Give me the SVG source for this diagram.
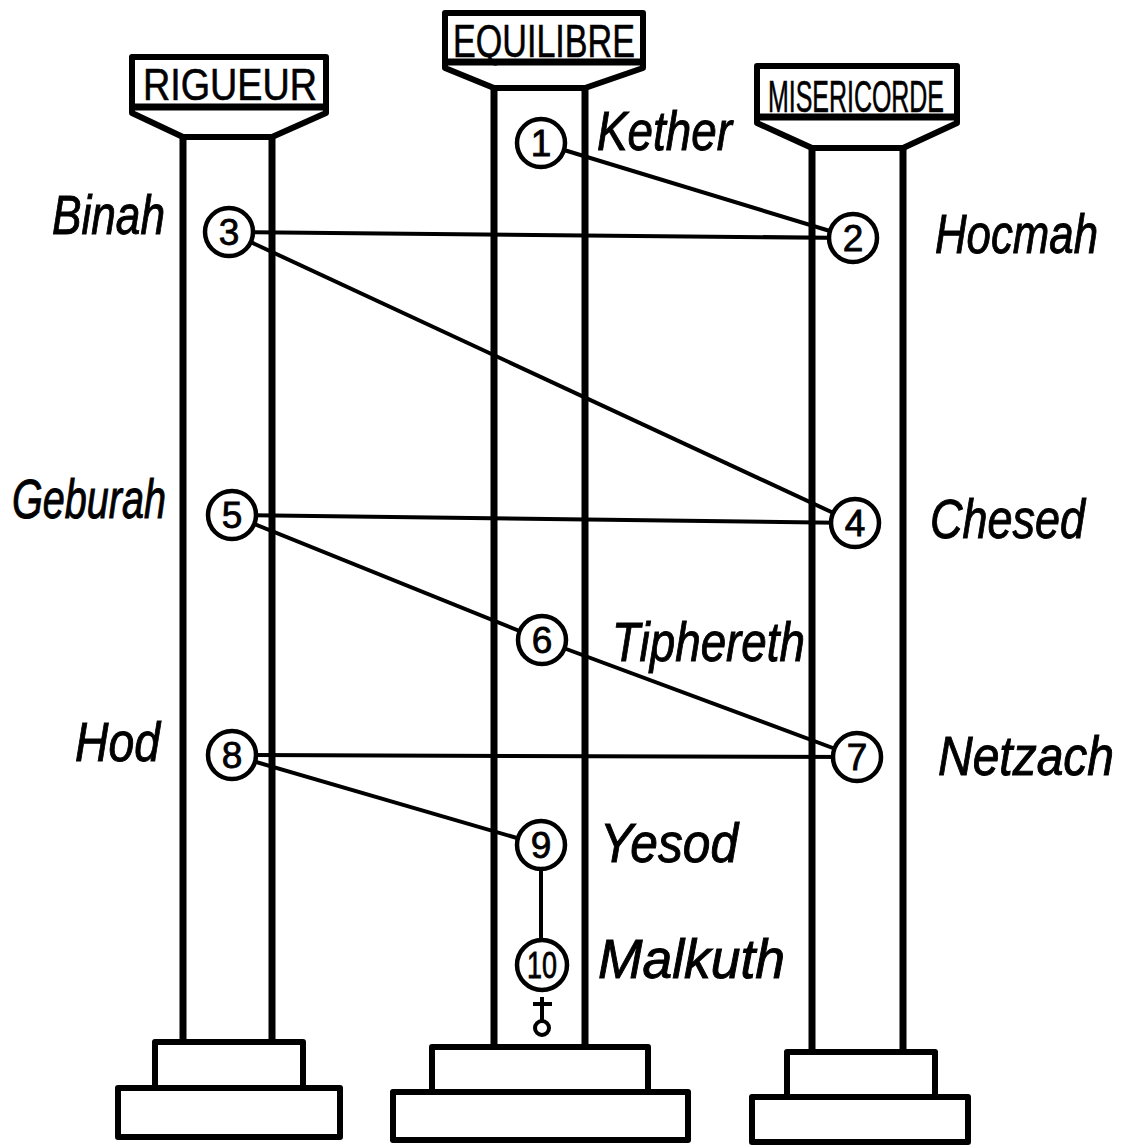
<svg xmlns="http://www.w3.org/2000/svg" width="1131" height="1146" viewBox="0 0 1131 1146">
<style>
.ol{fill:#fff;stroke:#000;stroke-width:6;stroke-linejoin:round}
.pl{stroke:#000;stroke-width:7;fill:none}
.cn{stroke:#000;stroke-width:4;fill:none}
.nd{fill:#fff;stroke:#000;stroke-width:4.5}
.num{font-family:"Liberation Sans",Arial,sans-serif;font-size:37px;text-anchor:middle;fill:#000;stroke:#000;stroke-width:0.8}
.lab{font-family:"Liberation Sans",Arial,sans-serif;font-style:italic;font-size:40px;fill:#000;stroke:#000;stroke-width:0.7}
.cap{font-family:"Liberation Sans",Arial,sans-serif;font-size:45px;fill:#000;stroke:#000;stroke-width:0.6}
</style>
<rect width="1131" height="1146" fill="#fff"/>
<g id="pillar-rigueur">
<line class="pl" x1="183" y1="137" x2="183" y2="1042"/>
<line class="pl" x1="272" y1="137" x2="272" y2="1042"/>
<path class="ol" d="M132,57 H326 V113 L272,137 H183 L132,113 Z"/>
<line class="pl" x1="132" y1="107" x2="326" y2="107" stroke-width="5"/>
<text class="cap" x="143" y="100" textLength="174" lengthAdjust="spacingAndGlyphs">RIGUEUR</text>
<rect class="ol" x="155" y="1042" width="148" height="46"/>
<rect class="ol" x="118" y="1088" width="222" height="49"/>
</g>
<g id="pillar-equilibre">
<line class="pl" x1="494" y1="88" x2="494" y2="1047"/>
<line class="pl" x1="585" y1="88" x2="585" y2="1047"/>
<path class="ol" d="M445,13 H643 V68 L585,88 H494 L445,68 Z"/>
<line class="pl" x1="445" y1="62" x2="643" y2="62" stroke-width="5"/>
<text class="cap" x="453" y="57" textLength="182" lengthAdjust="spacingAndGlyphs" style="font-size:47px">EQUILIBRE</text>
<rect class="ol" x="432" y="1047" width="216" height="45"/>
<rect class="ol" x="393" y="1092" width="295" height="48"/>
</g>
<g id="pillar-misericorde">
<line class="pl" x1="812" y1="148" x2="812" y2="1052"/>
<line class="pl" x1="903" y1="148" x2="903" y2="1052"/>
<path class="ol" d="M757,66 H957 V123 L903,148 H812 L757,123 Z"/>
<line class="pl" x1="757" y1="117" x2="957" y2="117" stroke-width="5"/>
<text class="cap" x="768" y="112" textLength="176" lengthAdjust="spacingAndGlyphs">MISERICORDE</text>
<rect class="ol" x="787" y="1052" width="148" height="45"/>
<rect class="ol" x="752" y="1097" width="216" height="45"/>
</g>
<g id="connectors">
<line class="cn" x1="541" y1="143" x2="853" y2="238"/>
<line class="cn" x1="229" y1="232" x2="853" y2="238"/>
<line class="cn" x1="229" y1="232" x2="855" y2="523"/>
<line class="cn" x1="232" y1="515" x2="855" y2="523"/>
<line class="cn" x1="232" y1="515" x2="542" y2="640"/>
<line class="cn" x1="542" y1="640" x2="857" y2="757"/>
<line class="cn" x1="232" y1="755" x2="857" y2="757"/>
<line class="cn" x1="232" y1="755" x2="541" y2="845"/>
<line class="cn" x1="541" y1="845" x2="541" y2="965"/>
</g>
<g id="n1"><circle class="nd" cx="541" cy="143" r="24"/><text class="num" x="541" y="156">1</text></g>
<g id="n2"><circle class="nd" cx="853" cy="238" r="24"/><text class="num" x="853" y="251">2</text></g>
<g id="n3"><circle class="nd" cx="229" cy="232" r="24"/><text class="num" x="229" y="245">3</text></g>
<g id="n4"><circle class="nd" cx="855" cy="523" r="24"/><text class="num" x="855" y="536">4</text></g>
<g id="n5"><circle class="nd" cx="232" cy="515" r="24"/><text class="num" x="232" y="528">5</text></g>
<g id="n6"><circle class="nd" cx="542" cy="640" r="24"/><text class="num" x="542" y="653">6</text></g>
<g id="n7"><circle class="nd" cx="857" cy="757" r="24"/><text class="num" x="857" y="770">7</text></g>
<g id="n8"><circle class="nd" cx="232" cy="755" r="24"/><text class="num" x="232" y="768">8</text></g>
<g id="n9"><circle class="nd" cx="541" cy="845" r="24"/><text class="num" x="541" y="858">9</text></g>
<g id="n10"><circle class="nd" cx="542" cy="965" r="25"/><text class="num" x="542" y="978" textLength="30" lengthAdjust="spacingAndGlyphs">10</text></g>
<g id="earth-symbol">
<line class="cn" x1="542" y1="997" x2="542" y2="1021"/>
<line class="cn" x1="533" y1="1004" x2="552" y2="1004"/>
<circle class="cn" cx="542" cy="1028" r="7"/>
</g>
<g id="labels">
<text class="lab" transform="translate(597,150) scale(1,1.4)" textLength="135" lengthAdjust="spacingAndGlyphs">Kether</text>
<text class="lab" transform="translate(52,234) scale(1,1.4)" textLength="113" lengthAdjust="spacingAndGlyphs">Binah</text>
<text class="lab" transform="translate(935,253) scale(1,1.4)" textLength="163" lengthAdjust="spacingAndGlyphs">Hocmah</text>
<text class="lab" transform="translate(12,518) scale(1,1.4)" textLength="154" lengthAdjust="spacingAndGlyphs">Geburah</text>
<text class="lab" transform="translate(930,538) scale(1,1.4)" textLength="155" lengthAdjust="spacingAndGlyphs">Chesed</text>
<text class="lab" transform="translate(612,661) scale(1,1.4)" textLength="193" lengthAdjust="spacingAndGlyphs">Tiphereth</text>
<text class="lab" transform="translate(75,761) scale(1,1.4)" textLength="85" lengthAdjust="spacingAndGlyphs">Hod</text>
<text class="lab" transform="translate(938,775) scale(1,1.4)" textLength="176" lengthAdjust="spacingAndGlyphs">Netzach</text>
<text class="lab" transform="translate(600,862) scale(1,1.4)" textLength="138" lengthAdjust="spacingAndGlyphs">Yesod</text>
<text class="lab" transform="translate(598,978) scale(1,1.4)" textLength="187" lengthAdjust="spacingAndGlyphs">Malkuth</text>
</g>
</svg>
